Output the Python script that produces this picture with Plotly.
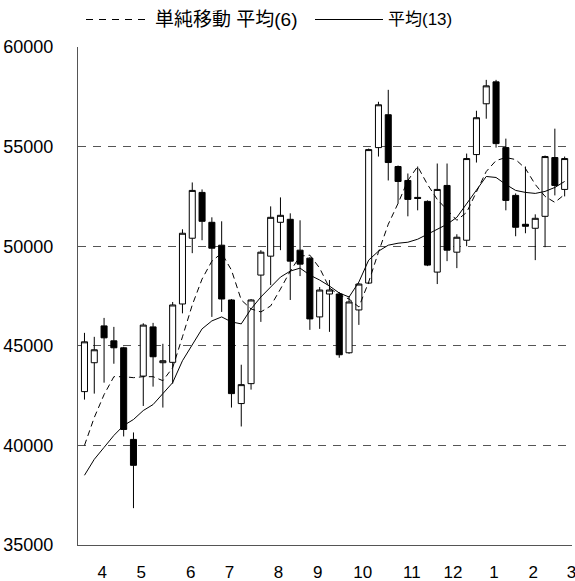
import plotly.graph_objects as go

# ---- data ----
opens = [42700, 44150, 46000, 45250, 44900, 40300, 43480, 45950, 44150, 44170,
         47100, 50400, 52700, 51200, 50050, 47300, 42100, 43100, 48550, 49500,
         51200, 51350, 49800, 49400, 46450, 47600, 47600, 44650, 46800, 48150,
         54950, 56600, 54000, 53300, 52450, 52250, 48700, 53050, 49700, 50300,
         54600, 57150, 58250, 54950, 52550, 51100, 50900, 51500, 54450, 52850]
highs = [45650, 45450, 46400, 45950, 44950, 40650, 46130, 46150, 45100, 47200,
         50850, 53200, 52850, 51450, 51250, 47350, 44050, 47350, 49800, 52000,
         52450, 51650, 51300, 49450, 47950, 48300, 47700, 47500, 48150, 54900,
         57250, 57850, 54050, 53650, 54000, 52300, 54150, 54150, 50600, 54650,
         56800, 58350, 58350, 55400, 52650, 54000, 51600, 54550, 55900, 54500]
lows = [42300, 42600, 43150, 44100, 40450, 36850, 41980, 42950, 41900, 43100,
        46630, 49650, 50300, 46450, 46700, 41900, 40950, 42800, 46200, 48050,
        49800, 47300, 48500, 45800, 45850, 45700, 44400, 44600, 46050, 48100,
        54500, 53300, 52150, 51500, 51800, 49000, 48100, 49250, 48900, 50000,
        54200, 56400, 54950, 51800, 50500, 50650, 49300, 49950, 52550, 52500]
closes = [45200, 44800, 45400, 44900, 40800, 39000, 46040, 44450, 44250, 47050,
          50650, 52800, 51250, 49900, 47350, 42600, 43050, 47300, 49700, 51450,
          51550, 49250, 49100, 46350, 47800, 47800, 44550, 47200, 48100, 54850,
          57100, 54200, 53250, 52350, 52400, 49050, 52850, 49800, 50450, 54400,
          56450, 58050, 55150, 52300, 50950, 51000, 51400, 54500, 53050, 54400]
ma6 = [40000, 41400, 42550, 43450, 43450, 43400, 43450, 43450, 43250, 43900,
       45450, 47050, 48350, 49250, 49650, 48800, 47300, 46850, 46700, 47000,
       47850, 48750, 49500, 49550, 48900, 47900, 47550, 47350, 46950, 48200,
       49700, 51100, 52150, 53300, 54000, 53100, 52350, 51800, 51300, 51700,
       52750, 53750, 54300, 54450, 54350, 53900, 53100, 52500, 52200, 52600]
ma13 = [38500, 39300, 39900, 40500, 41000, 41300, 41750, 42050, 42600, 43150,
        44250, 45050, 45850, 46250, 46450, 46200, 46100, 46850, 47450, 47950,
        48450, 48750, 48900, 48550, 48300, 48000, 47650, 47450, 48200, 49300,
        49750, 50050, 50150, 50200, 50350, 50600, 50850, 51100, 51450, 52150,
        52800, 53500, 53450, 53100, 52800, 52700, 52650, 52750, 52950, 53250]
month_labels = ["4", "5", "6", "7", "8", "9", "10", "11", "12", "1", "2", "3"]
month_pos = [1.8, 5.8, 10.85, 14.8, 19.8, 23.8, 28.4, 33.4, 37.6, 41.8, 45.8, 49.7]
y_ticks = [35000, 40000, 45000, 50000, 55000, 60000]
legend_labels = ["単純移動 平均(6)", "平均(13)"]

# ---- figure ----
W, H = 575, 581
ML, MR, MT, MB = 78, 3, 47, 36
FONT = "Arial, 'Liberation Sans', 'Noto Sans CJK JP', sans-serif"

x = list(range(len(opens)))
fig = go.Figure()
fig.add_trace(go.Candlestick(
    x=x, open=opens, high=highs, low=lows, close=closes,
    increasing=dict(line=dict(color="black", width=1), fillcolor="white"),
    decreasing=dict(line=dict(color="black", width=1), fillcolor="black"),
    whiskerwidth=0, showlegend=False, hoverinfo="skip"))
fig.add_trace(go.Scatter(x=x, y=ma6, mode="lines", name=legend_labels[0],
                         line=dict(color="black", width=1, dash="6px,4px"),
                         showlegend=False))
fig.add_trace(go.Scatter(x=x, y=ma13, mode="lines", name=legend_labels[1],
                         line=dict(color="black", width=1),
                         showlegend=False))

pw, ph = W - ML - MR, H - MT - MB


def px(xp):
    return (xp - ML) / pw


def py(yp):
    return (H - MB - yp) / ph


legend_y = 19.5
fig.add_shape(type="line", xref="paper", yref="paper",
              x0=px(86), x1=px(148), y0=py(legend_y), y1=py(legend_y),
              line=dict(color="black", width=1, dash="7px,6px"))
fig.add_shape(type="line", xref="paper", yref="paper",
              x0=px(315), x1=px(383), y0=py(legend_y), y1=py(legend_y),
              line=dict(color="black", width=1))
fig.add_annotation(text=legend_labels[0], xref="paper", yref="paper",
                   x=px(153), y=py(legend_y), xanchor="left", yanchor="middle",
                   showarrow=False, font=dict(size=19, color="black", family=FONT))
fig.add_annotation(text=legend_labels[1], xref="paper", yref="paper",
                   x=px(386), y=py(legend_y), xanchor="left", yanchor="middle",
                   showarrow=False, font=dict(size=17, color="black", family=FONT))

fig.update_layout(
    width=W, height=H,
    margin=dict(l=ML, r=MR, t=MT, b=MB, pad=0, autoexpand=False),
    paper_bgcolor="white", plot_bgcolor="white",
    font=dict(family=FONT, size=18, color="black"),
    boxgap=0.12,
    showlegend=False,
    hovermode=False,
)
fig.update_xaxes(
    range=[-0.66, 49.75], rangeslider=dict(visible=False),
    tickmode="array", tickvals=month_pos, ticktext=month_labels,
    showgrid=False, zeroline=False, showline=True, linecolor="#555", linewidth=1,
    ticks="", ticklabelstandoff=12, tickfont=dict(size=17), automargin=False,
    ticklabeloverflow="allow",
)
fig.update_yaxes(
    range=[35000, 60000], tickmode="array", tickvals=y_ticks,
    ticktext=[str(v) for v in y_ticks],
    showgrid=True, gridcolor="#555", gridwidth=1, griddash="8px,7px",
    zeroline=False, showline=True, linecolor="#555", linewidth=1,
    ticks="", ticklabelstandoff=20, tickfont=dict(size=18), automargin=False,
    ticklabeloverflow="allow",
)

fig.write_html(
    "out.html",
    config={"displayModeBar": False},
    post_script="document.body.style.margin='0px';document.body.style.overflow='hidden';",
)
